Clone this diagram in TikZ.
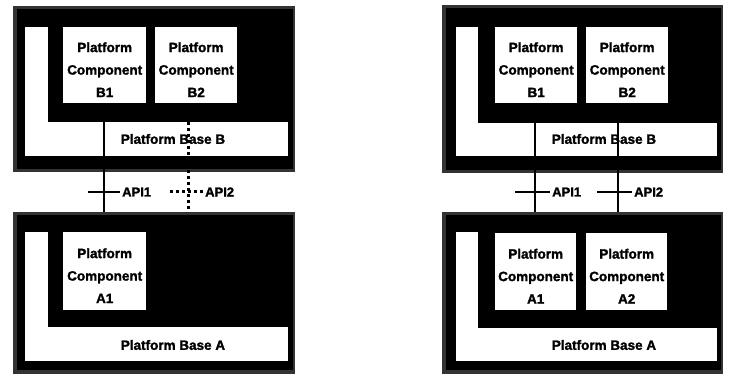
\documentclass[tikz,border=0pt]{standalone}
\usepackage{fontspec}
\setmainfont{Liberation Sans}[BoldFeatures={FakeBold=1.6}]
\begin{document}
\begin{tikzpicture}[x=1pt,y=-1pt,
  rim/.style={fill=black!80,draw=none,anchor=north west,inner sep=0pt},
  core/.style={fill=black},
  wl/.style={fill=white},
  comp/.style={fill=white,draw=none,anchor=north west,inner sep=0pt},
  ctext/.style={font=\bfseries\fontsize{13.5}{22.5}\selectfont,align=center,inner sep=0pt},
  base/.style={fill=white,draw=none,anchor=north west,inner sep=0pt},
  btext/.style={font=\bfseries\fontsize{13.5}{16}\selectfont,inner sep=0pt},
  api/.style={line width=1.9pt},
  apid/.style={line width=3pt,dash pattern=on 3pt off 3pt},
  alabel/.style={font=\bfseries\fontsize{13}{15}\selectfont,anchor=west,inner sep=2pt}]
\useasboundingbox (0,0) rectangle (729,379);
\fill[white] (0,0) rectangle (729,379);

% ---------------- Left diagram ----------------
% block B
\node[rim,minimum width=282pt,minimum height=166pt] (LB) at (13,6) {};
\fill[core] (17,9) rectangle (293,169);
\fill[wl] (25,27) rectangle (48,156);
\node[base,minimum width=263pt,minimum height=34pt] (LbaseB) at (25,122) {};
\node[btext] (LbaseBt) at (173,139) {Platform Base B};
\node[comp,minimum width=83pt,minimum height=76pt] (LB1) at (63,27) {};
\node[ctext] (LB1t) at ([yshift=-4.5pt]LB1.center) {Platform\\Component\\B1};
\node[comp,minimum width=82pt,minimum height=76pt] (LB2) at (155,27) {};
\node[ctext] (LB2t) at ([yshift=-4.5pt]LB2.center) {Platform\\Component\\B2};
% block A
\node[rim,minimum width=282pt,minimum height=162pt] (LA) at (13,212) {};
\fill[core] (17,215) rectangle (293,370);
\fill[wl] (25,232) rectangle (48,361);
\node[base,minimum width=263pt,minimum height=34pt] (LbaseA) at (25,327) {};
\node[btext] (LbaseAt) at (173,345) {Platform Base A};
\node[comp,minimum width=83pt,minimum height=78pt] (LA1) at (63,232) {};
\node[ctext] (LA1t) at ([yshift=-4.5pt]LA1.center) {Platform\\Component\\A1};
% APIs
\coordinate (L1x) at (104,0);
\coordinate (L2x) at (188,0);
\draw[api] (LbaseB.north -| L1x) -- (LA.north -| L1x);
\draw[apid] (LbaseB.north -| L2x) -- (LA.north -| L2x);
\node[alabel] (Lapi1) at (120,192) {API1};
\node[alabel] (Lapi2) at (203,192) {API2};
\coordinate (L1t) at (88,192);
\coordinate (L2t) at (170,192);
\draw[api] (L1t) -- (Lapi1.west);
\draw[apid] (L2t) -- (Lapi2.west);

% ---------------- Right diagram ----------------
\node[rim,minimum width=281pt,minimum height=168pt] (RB) at (442,5) {};
\fill[core] (446,8) rectangle (721,170);
\fill[wl] (456,27) rectangle (478,156);
\node[base,minimum width=261pt,minimum height=33pt] (RbaseB) at (456,123) {};
\node[btext] (RbaseBt) at (604,139) {Platform Base B};
\node[comp,minimum width=82pt,minimum height=76pt] (RB1) at (495,27) {};
\node[ctext] (RB1t) at ([yshift=-4.5pt]RB1.center) {Platform\\Component\\B1};
\node[comp,minimum width=82pt,minimum height=76pt] (RB2) at (586,27) {};
\node[ctext] (RB2t) at ([yshift=-4.5pt]RB2.center) {Platform\\Component\\B2};
\node[rim,minimum width=281pt,minimum height=162pt] (RA) at (442,212) {};
\fill[core] (446,215) rectangle (721,370);
\fill[wl] (456,232) rectangle (478,361);
\node[base,minimum width=261pt,minimum height=33pt] (RbaseA) at (456,328) {};
\node[btext] (RbaseAt) at (604,345) {Platform Base A};
\node[comp,minimum width=81pt,minimum height=77pt] (RA1) at (495,233) {};
\node[ctext] (RA1t) at ([yshift=-4.5pt]RA1.center) {Platform\\Component\\A1};
\node[comp,minimum width=81pt,minimum height=77pt] (RA2) at (586,233) {};
\node[ctext] (RA2t) at ([yshift=-4.5pt]RA2.center) {Platform\\Component\\A2};
\coordinate (R1x) at (535,0);
\coordinate (R2x) at (618,0);
\draw[api] (RbaseB.north -| R1x) -- (RA.north -| R1x);
\draw[api] (RbaseB.north -| R2x) -- (RA.north -| R2x);
\node[alabel] (Rapi1) at (550,192) {API1};
\node[alabel] (Rapi2) at (632,192) {API2};
\coordinate (R1t) at (515,192);
\coordinate (R2t) at (597,192);
\draw[api] (R1t) -- (Rapi1.west);
\draw[api] (R2t) -- (Rapi2.west);
\end{tikzpicture}
\end{document}
